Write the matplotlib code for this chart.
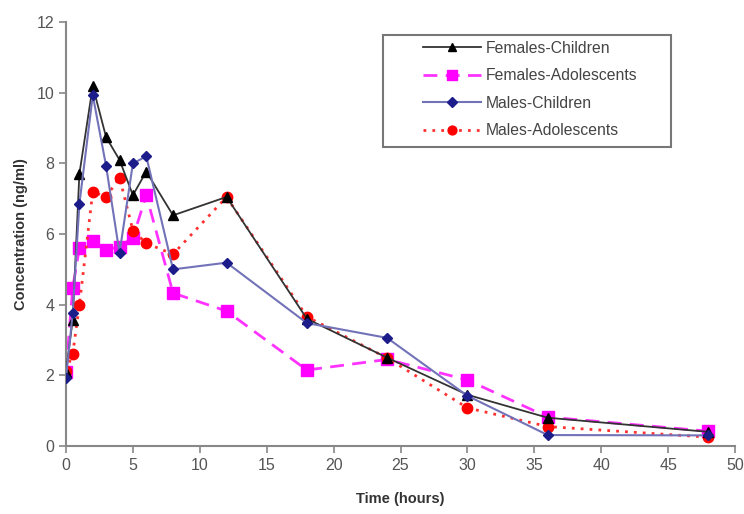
import matplotlib.pyplot as plt
from matplotlib.patches import Rectangle

plt.rcParams['font.family'] = ['Liberation Sans', 'DejaVu Sans']

hours = [0, 0.5, 1, 2, 3, 4, 5, 6, 8, 12, 18, 24, 30, 36, 48]
females_children = [2.1, 3.57, 7.7, 10.19, 8.74, 8.1, 7.1, 7.77, 6.53, 7.05, 3.6, 2.5, 1.45, 0.8, 0.4]
females_adolescents = [2.1, 4.47, 5.6, 5.8, 5.55, 5.64, 5.9, 7.1, 4.33, 3.82, 2.15, 2.45, 1.87, 0.82, 0.42]
males_children = [1.92, 3.76, 6.85, 9.93, 7.92, 5.46, 8.0, 8.2, 5.0, 5.19, 3.48, 3.06, 1.42, 0.31, 0.3]
males_adolescents = [2.13, 2.6, 3.99, 7.2, 7.05, 7.6, 6.1, 5.74, 5.43, 7.05, 3.66, 2.49, 1.08, 0.55, 0.25]

fig = plt.figure(figsize=(7.44, 5.14), dpi=100)
ax = fig.add_axes([0.0887, 0.1323, 0.8993, 0.8247])

ax.plot(hours, females_children, color='#333333', lw=1.3, marker='^', ms=7,
        mfc='black', mec='black', label='Females-Children', zorder=3)
ax.plot(hours, females_adolescents, color='#ff33ff', lw=2, ls=(0, (5, 3)), marker='s', ms=8,
        mfc='#ff00ff', mec='#ff00ff', label='Females-Adolescents', zorder=2)
ax.plot(hours, males_children, color='#7272b8', lw=1.5, marker='D', ms=5.5,
        mfc='#1c1c8a', mec='#1c1c8a', label='Males-Children', zorder=4)
ax.plot(hours, males_adolescents, color='#ff3030', lw=2, ls=(0, (1, 2.2)), marker='o', ms=7.5,
        mfc='#ff0000', mec='#ff0000', label='Males-Adolescents', zorder=2)

ax.set_xlim(0, 50)
ax.set_ylim(0, 12)
ax.set_xticks(range(0, 51, 5))
ax.set_yticks(range(0, 13, 2))
for s in ['top', 'right']:
    ax.spines[s].set_visible(False)
for s in ['left', 'bottom']:
    ax.spines[s].set_color('#888888')
    ax.spines[s].set_linewidth(1.5)
ax.tick_params(colors='#888888', labelcolor='#555555', labelsize=11.5, width=1.2, length=5)

ax.set_xlabel('Time (hours)', fontweight='bold', fontsize=10.5, color='#333333', labelpad=14)
ax.set_ylabel('Concentration (ng/ml)', fontweight='bold', fontsize=10.5, color='#333333', labelpad=6)

# legend box drawn separately, it has wide side padding
box = Rectangle((0.474, 0.705), 0.4305, 0.264, transform=ax.transAxes, fill=True,
                facecolor='white', edgecolor='#777777', lw=1.5, zorder=5)
ax.add_patch(box)
leg = ax.legend(loc='upper left', bbox_to_anchor=(0.5336, 0.956), fontsize=11.3, frameon=False,
                handlelength=3.7, handletextpad=0.3, borderpad=0, labelspacing=0.8,
                borderaxespad=0, markerscale=0.85)
leg.set_zorder(6)
for t in leg.get_texts():
    t.set_color('#444444')

fig.savefig('out.png', dpi=100)
